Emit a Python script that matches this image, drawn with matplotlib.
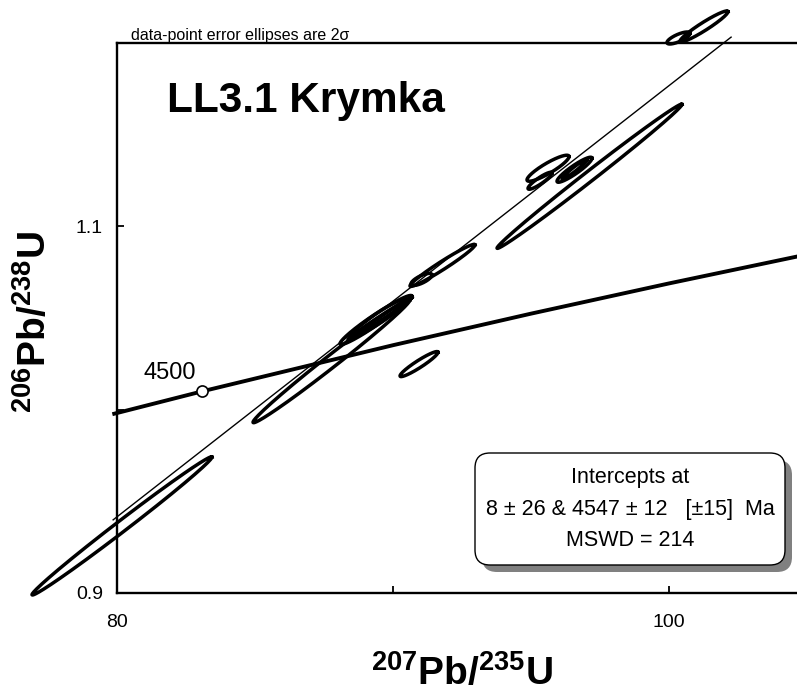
import numpy as np
import matplotlib
matplotlib.use("Agg")
import matplotlib.pyplot as plt
from matplotlib.patches import FancyBboxPatch

# concordia points (207Pb/235U, 206Pb/238U)
conc_x = [79.9, 83.08, 90.0, 95.0, 100.0, 105.0]
conc_y = [0.99779, 1.00997, 1.03516, 1.05237, 1.06886, 1.08466]
age_label = "4500"
age_x = 83.08
age_y = 1.00997

# discordia (regression line) end points
disc_x = [79.86, 102.25]
disc_y = [0.9399, 1.2032]

# data-point ellipses: centre, 2-sigma errors, error correlation
ell_x = [80.181, 87.772, 89.257, 89.565, 89.529, 91.793, 91.033, 90.942, 97.120, 95.616, 95.326, 96.576, 96.576, 100.344, 101.268]
ell_y = [0.93661, 1.02650, 1.04781, 1.05082, 1.04973, 1.07869, 1.07104, 1.02486, 1.12732, 1.13169, 1.12486, 1.13087, 1.13115, 1.20273, 1.20902]
ell_ex = [3.261, 2.844, 1.178, 1.123, 1.159, 1.178, 0.380, 0.688, 3.351, 0.761, 0.435, 0.634, 0.453, 0.417, 0.870]
ell_ey = [0.0377, 0.03361, 0.01230, 0.01148, 0.01148, 0.01148, 0.00328, 0.00683, 0.03934, 0.0071, 0.00464, 0.00683, 0.00546, 0.00328, 0.00847]
ell_rho = [0.995, 0.9923, 0.963, 0.958, 0.9935, 0.974, 0.741, 0.942, 0.9961, 0.892, 0.90, 0.919, 0.967, 0.753, 0.952]

x_ticks = [80, 90, 100]
x_ticklabels = ["80", "", "100"]
y_ticks = [0.9, 1.0, 1.1, 1.2]
y_ticklabels = ["0.9", "", "1.1", ""]

title = "LL3.1 Krymka"
note = "data-point error ellipses are 2\u03c3"
box_lines = ["Intercepts at", "8 \u00b1 26 & 4547 \u00b1 12   [\u00b115]  Ma", "MSWD = 214"]

plt.rcParams["font.family"] = ["Liberation Sans", "DejaVu Sans"]
plt.rcParams["mathtext.fontset"] = "custom"
plt.rcParams["mathtext.rm"] = "Liberation Sans"
plt.rcParams["mathtext.bf"] = "Liberation Sans:bold"
plt.rcParams["mathtext.it"] = "Liberation Sans:italic"


def ellipse_xy(cx, cy, ex, ey, rho, n=300):
	t = np.linspace(0, 2 * np.pi, n)
	x = cx + ex * np.cos(t)
	y = cy + ey * (rho * np.cos(t) + np.sqrt(1 - rho ** 2) * np.sin(t))
	return x, y


fig = plt.figure(figsize=(7.97, 7.0), dpi=100)
ax = fig.add_axes([117 / 797, 107 / 700, 690 / 797, 550 / 700])
ax.set_xlim(80, 105)
ax.set_ylim(0.9, 1.2)

for side in ["left", "bottom", "top", "right"]:
	ax.spines[side].set_linewidth(1.7)

ax.set_xticks(x_ticks)
ax.set_xticklabels(x_ticklabels)
ax.set_yticks(y_ticks)
ax.set_yticklabels(y_ticklabels)
ax.tick_params(direction="in", length=5, width=1.3, labelsize=14)
ax.tick_params(axis="x", pad=15)
ax.tick_params(axis="y", pad=10)

# concordia and regression line
ax.plot(conc_x, conc_y, color="black", lw=2.8, clip_on=False, zorder=3)
ax.plot(disc_x, disc_y, color="black", lw=1.0, clip_on=False, zorder=3)

for i in range(len(ell_x)):
	ex, ey = ellipse_xy(ell_x[i], ell_y[i], ell_ex[i], ell_ey[i], ell_rho[i])
	ax.plot(ex, ey, color="black", lw=2.5, clip_on=False, zorder=4)

ax.plot([age_x], [age_y], "o", ms=8, mfc="white", mec="black", mew=1.2, zorder=5, clip_on=False)
ax.annotate(age_label, (age_x, age_y), xytext=(-42, 9), textcoords="offset points",
	ha="left", va="baseline", fontsize=17)

fig.text(131 / 797, 1 - 40 / 700, note, fontsize=11.5, va="baseline")
fig.text(167 / 797, 1 - 112 / 700, title, fontsize=30.5, fontweight="bold", va="baseline")

fig.text(462 / 797, 1 - 673 / 700, r"$^{\mathbf{207}}$Pb/$^{\mathbf{235}}$U",
	fontsize=28, fontweight="bold", ha="center", va="center")
fig.text(34 / 797, 1 - 322 / 700, r"$^{\mathbf{206}}$Pb/$^{\mathbf{238}}$U",
	fontsize=28, fontweight="bold", ha="center", va="center", rotation=90)

# intercept box with drop shadow
shadow = FancyBboxPatch((4.82, 1.28), 3.10, 1.12, boxstyle="round,pad=0,rounding_size=0.15",
	transform=fig.dpi_scale_trans, facecolor="#808080", edgecolor="none", zorder=10)
box = FancyBboxPatch((4.75, 1.35), 3.10, 1.12, boxstyle="round,pad=0,rounding_size=0.15",
	transform=fig.dpi_scale_trans, facecolor="white", edgecolor="black", lw=1.0, zorder=11)
fig.patches.append(shadow)
fig.patches.append(box)
for line, yy in zip(box_lines, [478, 510, 540]):
	fig.text(630 / 797, 1 - yy / 700, line, fontsize=15.5, ha="center", va="center", zorder=12)

fig.savefig("out.png", dpi=100)
